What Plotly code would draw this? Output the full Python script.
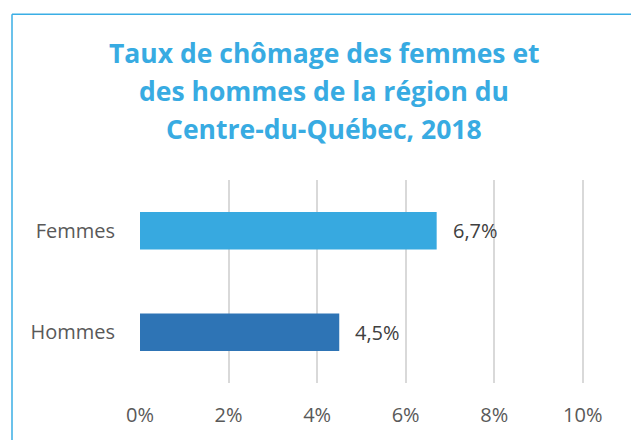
import plotly.graph_objects as go

categories = ["Femmes", "Hommes"]
values = [6.7, 4.5]
bar_colors = ["#37A9E0", "#2E74B5"]
tick_vals = [0, 2, 4, 6, 8, 10]
tick_text = ["0%", "2%", "4%", "6%", "8%", "10%"]
title_lines = ["Taux de chômage des femmes et", "des hommes de la région du", "Centre-du-Québec, 2018"]

W, H = 631, 440
ml, mr, mt, mb = 140, 46, 180, 53
pw = W - ml - mr
ph = H - mt - mb

fig = go.Figure()
fig.add_trace(go.Bar(
    y=categories, x=values, orientation="h",
    marker=dict(color=bar_colors, line=dict(width=0)),
    width=0.37,
    hoverinfo="skip",
))

for c, v in zip(categories, values):
    fig.add_annotation(
        x=v, y=c, xref="x", yref="y",
        text=f"{v:.1f}%".replace(".", ","),
        showarrow=False, xanchor="left", xshift=14,
        font=dict(family="Open Sans", size=20, color="#404040"),
    )

# title lines as separate annotations (to control line spacing)
title_cx = 324
title_cy = [50, 89, 128]
for line, cy in zip(title_lines, title_cy):
    fig.add_annotation(
        x=(title_cx - ml) / pw, y=(H - mb - cy) / ph,
        xref="paper", yref="paper", text=f"<b>{line}</b>",
        showarrow=False, xanchor="center", yanchor="middle",
        font=dict(family="Open Sans", size=26.5, color="#38ABE2"),
    )

# border (left and top edges visible)
x0 = (12 - ml) / pw
y1 = (H - 11 - mb) / ph
fig.add_shape(type="line", xref="paper", yref="paper", x0=x0, x1=x0, y0=-1, y1=y1,
              line=dict(color="#3AAEE5", width=1.5))
fig.add_shape(type="line", xref="paper", yref="paper", x0=x0, x1=2, y0=y1, y1=y1,
              line=dict(color="#3AAEE5", width=1.5))

fig.update_layout(
    width=W, height=H,
    margin=dict(l=ml, r=mr, t=mt, b=mb),
    paper_bgcolor="white", plot_bgcolor="white",
    showlegend=False,
    xaxis=dict(
        range=[0, 10.05], tickvals=tick_vals, ticktext=tick_text,
        showgrid=True, gridcolor="#D9D9D9", gridwidth=1.5,
        zeroline=False, showline=False,
        ticks="outside", ticklen=14, tickcolor="white",
        tickfont=dict(family="Open Sans", size=20, color="#595959"),
    ),
    yaxis=dict(
        categoryorder="array", categoryarray=categories[::-1],
        range=[-0.5, 1.5],
        showgrid=False, zeroline=False, showline=False,
        ticks="outside", ticklen=20, tickcolor="white",
        tickfont=dict(family="Open Sans", size=20, color="#595959"),
    ),
)

fig.write_html("out.html", config={"displayModeBar": False},
               post_script="document.body.style.margin='0';")
